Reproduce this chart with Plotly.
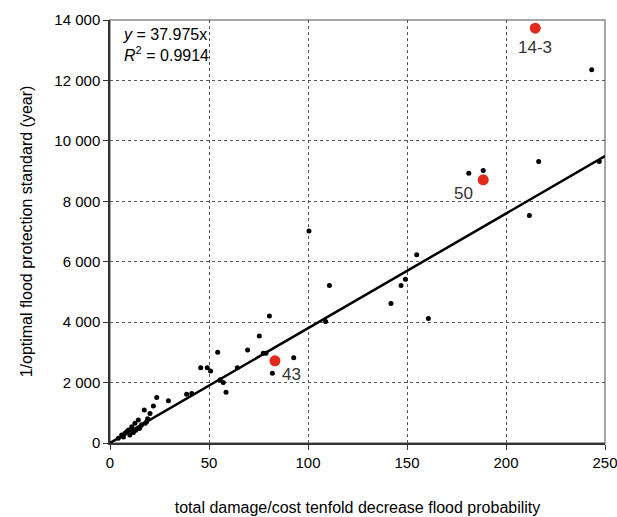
import plotly.graph_objects as go

# black data points (x: total damage/cost, y: 1/optimal standard)
x_pts = [4.2, 5.9, 7.6, 9.3, 10.0, 11.0, 12.6, 14.3, 16.0, 17.3, 18.5, 20.2, 21.9, 23.6,
         29.5, 38.7, 41.3, 45.8, 49.1, 50.8, 54.4, 55.6, 57.2, 58.6, 64.3, 69.5, 75.4,
         77.4, 78.8, 80.5, 82.0, 92.8, 100.5, 108.9, 110.8, 141.9, 147.0, 149.2, 154.9,
         160.8, 181.2, 188.5, 211.8, 216.5, 243.3, 247.1, 8.5, 13.0, 15.2, 19.0,
         6.8, 11.8, 14.8, 17.8]
y_pts = [155, 265, 320, 430, 265, 540, 650, 760, 600, 1090, 705, 980, 1225, 1510,
         1400, 1610, 1640, 2490, 2490, 2380, 3000, 2090, 2000, 1680, 2490, 3080, 3540,
         2970, 2970, 4200, 2310, 2820, 7020, 4020, 5210, 4620, 5210, 5420, 6230,
         4120, 8930, 9020, 7530, 9320, 12350, 9320, 380, 420, 520, 800,
         200, 350, 480, 650]

# highlighted points
hl_x = [83.3, 188.5, 214.8]
hl_y = [2720, 8710, 13730]
hl_labels = ["43", "50", "14-3"]

slope = 37.975
r2 = 0.9914
fit_x = [0, 250]

FONT = "Liberation Sans, Arial, sans-serif"

fig = go.Figure()
fig.add_trace(go.Scatter(x=fit_x, y=[slope * v for v in fit_x], mode="lines",
                         line=dict(color="black", width=2.5), showlegend=False,
                         hoverinfo="skip", cliponaxis=False))
fig.add_trace(go.Scatter(x=x_pts, y=y_pts, mode="markers",
                         marker=dict(color="black", size=5), showlegend=False))
fig.add_trace(go.Scatter(x=hl_x, y=hl_y, mode="markers",
                         marker=dict(color="#e3291b", size=11), showlegend=False))

# labels for highlighted points
offsets = {"43": (5, -2, "left", "top"), "50": (-8, -2, "right", "top"),
           "14-3": (0, -8, "center", "top")}
for lx, ly, lab in zip(hl_x, hl_y, hl_labels):
    dx, dy, xa, ya = offsets[lab]
    fig.add_annotation(x=lx, y=ly, text=lab, showarrow=False, xshift=dx, yshift=dy,
                       xanchor=xa, yanchor=ya,
                       font=dict(family=FONT, size=17, color="#333333"))

fig.add_annotation(x=0.022, y=0.99, xref="paper", yref="paper", xanchor="left",
                   yanchor="top", align="left", showarrow=False,
                   text=f"<i>y</i> = {slope}x<br><i>R</i><sup>2</sup> = {r2}",
                   font=dict(family=FONT, size=16, color="black"))

fig.add_shape(type="rect", xref="paper", yref="paper", x0=0, y0=0, x1=1, y1=1,
              line=dict(color="#8a8a8a", width=1.5), layer="below")

fig.update_layout(
    width=617, height=517,
    margin=dict(l=110, r=12, t=20, b=74),
    paper_bgcolor="white", plot_bgcolor="white",
    separators=". ",
    font=dict(family=FONT, size=15, color="black"),
    xaxis=dict(range=[0, 250], tickvals=[0, 50, 100, 150, 200, 250],
               automargin=False, ticklabeloverflow="allow",
               showgrid=True, gridcolor="#555555", griddash="dot", gridwidth=1,
               showline=True, linecolor="#333333", linewidth=1.5,
               ticks="outside", ticklen=5, tickcolor="#333333",
               zeroline=False, tickfont=dict(size=15),
               title=dict(text="total damage/cost tenfold decrease flood probability",
                          standoff=32, font=dict(size=16))),
    yaxis=dict(range=[0, 14000], tickvals=list(range(0, 14001, 2000)),
               tickformat=",d", automargin=False, ticklabeloverflow="allow",
               showgrid=True, gridcolor="#555555", griddash="dot", gridwidth=1,
               showline=True, linecolor="#333333", linewidth=1.5,
               ticks="outside", ticklen=5, tickcolor="#333333",
               zeroline=False, tickfont=dict(size=15),
               title=dict(text="1/optimal flood protection standard (year)",
                          standoff=18, font=dict(size=16))),
)

fig.write_html("out.html",
               config={"displayModeBar": False},
               post_script="document.body.style.margin='0';"
                           "document.body.style.overflow='hidden';")
